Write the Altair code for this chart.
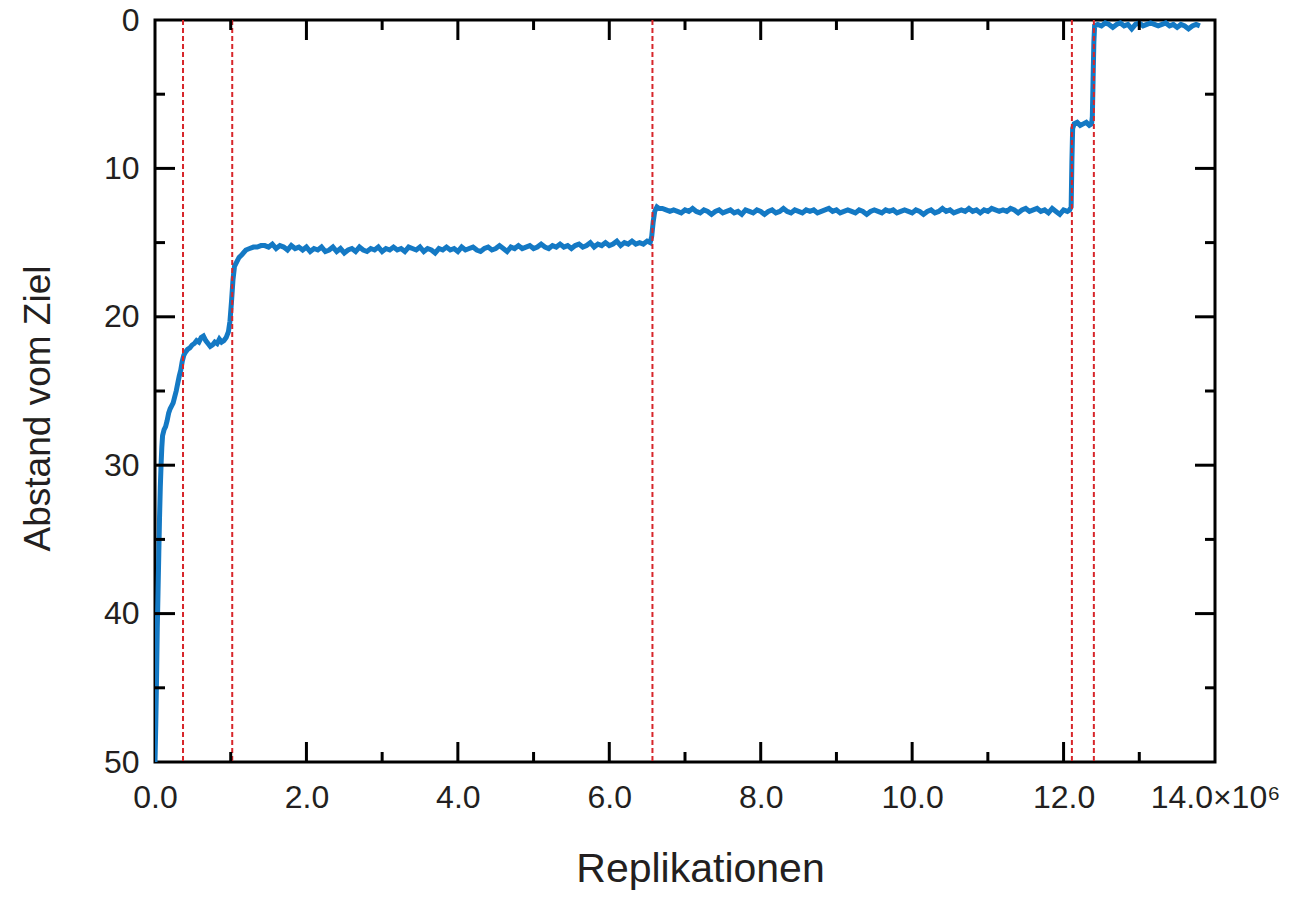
import altair as alt
import pandas as pd

# ---------------- data (x in millions of replications) ----------------
rise_x = [0.00, 0.01, 0.02, 0.03, 0.04, 0.05, 0.06, 0.07, 0.08, 0.09, 0.10, 0.12, 0.14,
          0.16, 0.18, 0.20, 0.22, 0.24, 0.26, 0.28, 0.30, 0.32, 0.34, 0.36, 0.38, 0.40,
          0.43, 0.46, 0.49, 0.52, 0.55, 0.58, 0.61, 0.64, 0.67, 0.70, 0.73, 0.76, 0.79,
          0.82, 0.85, 0.88, 0.91, 0.94, 0.97, 0.99, 1.01, 1.03, 1.05, 1.08, 1.11, 1.15,
          1.20, 1.25, 1.30, 1.35, 1.40]
rise_y = [50.0, 47.5, 44.5, 41.0, 38.5, 36.0, 33.5, 31.5, 30.0, 28.8, 28.0, 27.6, 27.4,
          27.0, 26.5, 26.2, 26.0, 25.8, 25.4, 25.0, 24.5, 24.0, 23.6, 23.0, 22.6, 22.4,
          22.2, 22.1, 21.9, 21.8, 21.6, 21.7, 21.4, 21.3, 21.6, 21.8, 22.0, 21.9, 21.7,
          21.8, 21.5, 21.7, 21.6, 21.4, 21.0, 20.3, 19.0, 17.5, 16.6, 16.3, 16.0, 15.8,
          15.5, 15.4, 15.3, 15.3, 15.2]

plateau1_start = 1.45
plateau1_y = [15.2, 15.3, 15.1, 15.4, 15.2, 15.3, 15.5, 15.2, 15.4, 15.3,
              15.5, 15.3, 15.6, 15.4, 15.5, 15.3, 15.6, 15.5, 15.3, 15.6,
              15.4, 15.7, 15.5, 15.4, 15.6, 15.3, 15.5, 15.6, 15.4, 15.5,
              15.3, 15.6, 15.4, 15.5, 15.3, 15.5, 15.4, 15.6, 15.3, 15.4,
              15.5, 15.3, 15.6, 15.4, 15.5, 15.7, 15.4, 15.5, 15.3, 15.5,
              15.4, 15.6, 15.3, 15.5, 15.4, 15.3, 15.5, 15.6, 15.4, 15.3,
              15.5, 15.4, 15.2, 15.4, 15.6, 15.3, 15.4, 15.2, 15.4, 15.3,
              15.2, 15.4, 15.3, 15.1, 15.3, 15.4, 15.2, 15.3, 15.1, 15.3,
              15.2, 15.4, 15.2, 15.1, 15.3, 15.2, 15.0, 15.3, 15.1, 15.2,
              15.0, 15.2, 15.1, 14.9, 15.2, 15.0, 15.1, 14.9, 15.1, 15.0,
              15.1, 14.9]

jump1_x = [6.54, 6.56, 6.58, 6.60, 6.63, 6.66]
jump1_y = [15.0, 14.6, 13.6, 12.9, 12.6, 12.7]

plateau2_start = 6.70
plateau2_y = [12.7, 12.8, 12.9, 12.8, 12.9, 13.0, 12.8, 12.9, 12.7, 12.9,
              13.0, 12.8, 12.9, 13.1, 12.9, 12.8, 13.0, 12.9, 12.8, 13.0,
              12.9, 13.1, 12.8, 12.9, 13.0, 12.8, 12.9, 13.1, 12.9, 12.8,
              13.0, 12.9, 12.7, 12.9, 13.0, 12.8, 12.9, 13.0, 12.8, 12.9,
              12.8, 13.0, 12.9, 12.8, 12.7, 12.9, 12.8, 13.0, 12.9, 12.8,
              12.9, 13.0, 12.8, 12.9, 13.1, 12.9, 12.8, 12.9, 13.0, 12.8,
              12.9, 12.8, 13.0, 12.9, 12.8, 12.9, 13.0, 12.8, 12.9, 13.1,
              12.9, 12.8, 13.0, 12.9, 12.7, 12.9, 12.8, 13.0, 12.9, 12.8,
              12.9, 12.7, 12.9, 12.8, 13.0, 12.8, 12.9, 12.7, 12.8, 12.9,
              12.8, 12.9, 12.7, 12.8, 13.0, 12.8, 12.7, 12.9, 12.8, 12.7,
              12.9, 12.8, 13.0, 12.7, 12.9, 13.1, 12.8, 12.9]

jump2_x = [12.08, 12.10, 12.11, 12.12, 12.14, 12.18, 12.22, 12.26, 12.30, 12.34,
           12.37, 12.38, 12.39, 12.40, 12.41]
jump2_y = [12.8, 12.6, 9.5, 7.3, 7.0, 6.9, 7.1, 7.0, 6.9, 7.1,
           7.0, 6.5, 4.0, 1.5, 0.4]

plateau3_start = 12.45
plateau3_y = [0.3, 0.4, 0.2, 0.3, 0.5, 0.3, 0.2, 0.4, 0.3, 0.6,
              0.3, 0.2, 0.4, 0.3, 0.2, 0.3, 0.4, 0.3, 0.2, 0.4,
              0.3, 0.5, 0.3, 0.4, 0.6, 0.4, 0.3, 0.4]

step = 0.05
event_x = [0.37, 1.02, 6.57, 12.11, 12.40]

x_labels = [0, 2, 4, 6, 8, 10, 12, 14]
y_labels = [0, 10, 20, 30, 40, 50]
major_x = [2, 4, 6, 8, 10, 12]
minor_x = [1, 3, 5, 7, 9, 11, 13]
major_y = [10, 20, 30, 40]
minor_y = [5, 15, 25, 35, 45]

# ---------------- build table ----------------
xs, ys = [], []
xs += rise_x; ys += rise_y
xs += [round(plateau1_start + step * i, 3) for i in range(len(plateau1_y))]; ys += plateau1_y
xs += jump1_x; ys += jump1_y
xs += [round(plateau2_start + step * i, 3) for i in range(len(plateau2_y))]; ys += plateau2_y
xs += jump2_x; ys += jump2_y
xs += [round(plateau3_start + step * i, 3) for i in range(len(plateau3_y))]; ys += plateau3_y
df = pd.DataFrame({"x": xs, "y": ys, "i": range(len(xs))})

W, H = 1060, 742
FONT = "Liberation Sans"
TXT = "#231f20"

xscale = alt.Scale(domain=[0, 14], nice=False, zero=False)
yscale = alt.Scale(domain=[0, 50], nice=False, reverse=True)

x_axis = alt.Axis(values=x_labels, title="Replikationen", titleX=545,
                  titleFontSize=41, titlePadding=36, labelPadding=20,
                  labelExpr="datum.value == 14 ? '14.0×10⁶' : format(datum.value, '.1f')")
y_axis = alt.Axis(values=y_labels, title="Abstand vom Ziel", format="d",
                  titleY=388, titlePadding=46, labelPadding=16)

line = alt.Chart(df).mark_line(color="#1479c4", strokeWidth=5, clip=True).encode(
    x=alt.X("x:Q", scale=xscale, axis=x_axis),
    y=alt.Y("y:Q", scale=yscale, axis=y_axis),
    order="i:Q",
)

ev = alt.Chart(pd.DataFrame({"v": event_x})).mark_rule(
    color="#d7262b", strokeWidth=2, strokeDash=[5, 3]
).encode(x=alt.X("v:Q", scale=xscale, axis=x_axis))

def xticks(vals, length):
    d = pd.DataFrame({"v": vals})
    top = alt.Chart(d).mark_rule(color="black", strokeWidth=3).encode(
        x=alt.X("v:Q", scale=xscale, axis=x_axis), y=alt.value(0), y2=alt.value(length))
    bot = alt.Chart(d).mark_rule(color="black", strokeWidth=3).encode(
        x=alt.X("v:Q", scale=xscale, axis=x_axis), y=alt.value(H), y2=alt.value(H - length))
    return [top, bot]

def yticks(vals, length):
    d = pd.DataFrame({"v": vals})
    left = alt.Chart(d).mark_rule(color="black", strokeWidth=3).encode(
        y=alt.Y("v:Q", scale=yscale, axis=y_axis), x=alt.value(0), x2=alt.value(length))
    right = alt.Chart(d).mark_rule(color="black", strokeWidth=3).encode(
        y=alt.Y("v:Q", scale=yscale, axis=y_axis), x=alt.value(W), x2=alt.value(W - length))
    return [left, right]

layers = [line, ev] + xticks(major_x, 20) + xticks(minor_x, 10) + yticks(major_y, 20) + yticks(minor_y, 10)

chart = alt.layer(*layers).properties(
    width=W, height=H,
    autosize=alt.AutoSizeParams(type="none"),
    padding={"left": 147, "top": 12, "right": 70, "bottom": 129},
).configure_view(
    stroke="black", strokeWidth=3
).configure_axis(
    domain=False, ticks=False, grid=False,
    labelFont=FONT, labelFontSize=32, labelColor=TXT,
    labelFlush=False, labelOverlap=False,
    titleFont=FONT, titleFontSize=37, titleFontWeight="normal", titleColor=TXT,
)

chart.save("out.html", embed_options={"renderer": "svg", "actions": False})
